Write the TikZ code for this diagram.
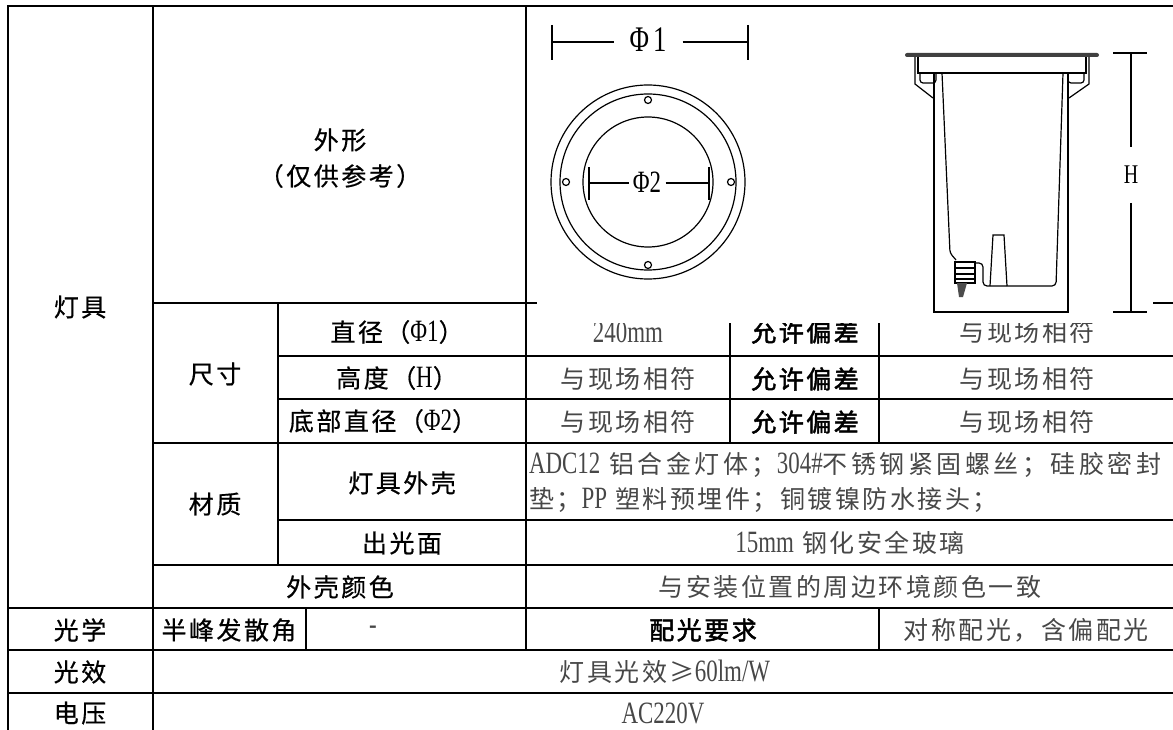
\documentclass[tikz,border=0pt]{standalone}
\usepackage{fontspec}
\setmainfont{Noto Sans CJK SC}[LetterSpace=10,BoldFont=*,BoldFeatures={FakeBold=2}]
\newfontfamily\labfont{Noto Sans CJK SC}[LetterSpace=10,FakeBold=0.6]
\newfontfamily\latnfont{Liberation Serif}[FakeStretch=0.74]
\newcommand\latn[1]{{\latnfont\fontsize{31}{31}\selectfont #1}}

\begin{document}
\begin{tikzpicture}[x=1pt,y=-1pt,line width=2pt,
  lab/.style={font=\labfont\fontsize{25}{30}\selectfont},
  val/.style={font=\fontsize{25}{30}\selectfont,text=black!72},
  bld/.style={font=\fontsize{25}{30}\selectfont\bfseries},
  lampline/.style={line width=1.2pt},
  dimline/.style={line width=1.6pt}]
\useasboundingbox (0,0) rectangle (1173,730);
% table grid
\draw[line cap=rect]
(8,6) -- (1173,6)
(8,6) -- (8,730)
(153,6) -- (153,730)
(526,6) -- (526,650)
(278,303) -- (278,565)
(730,303) -- (730,443)
(879,303) -- (879,443)
(879,608) -- (879,650)
(306,608) -- (306,650)
(153,303) -- (537,303)
(1153,303) -- (1173,303)
(278,356) -- (1173,356)
(278,399) -- (1173,399)
(153,443) -- (1173,443)
(278,520) -- (1173,520)
(153,565) -- (1173,565)
(8,608) -- (1173,608)
(8,650) -- (1173,650)
(8,693) -- (1173,693);
% left column
\node[lab] (dj) at (80,307) {灯具};
\node[lab] (wx) at (340,140) {外形};
\node[lab] (ck) at (340,176) {（仅供参考）};
\node[lab] (cc) at (215,374) {尺寸};
\node[lab] (cz) at (215,504) {材质};
\node[lab] (zj) at (397,332) {直径（\latn{Φ1}）};
\node[lab] (gd) at (397,378) {高度（\latn{H}）};
\node[lab] (dz) at (383,421) {底部直径（\latn{Φ2}）};
\node[lab] (wk) at (402,483) {灯具外壳};
\node[lab] (cg) at (402,543) {出光面};
\node[lab] (ys) at (340,587) {外壳颜色};
\node[lab] (gx) at (80,630) {光学};
\node[lab] (bf) at (229,630) {半峰发散角};
\node[val] (bv) at (373,630) {\latn{-}};
\node[lab] (xl) at (80,672) {光效};
\node[lab] (dy) at (80,713) {电压};
% values
\node[val] (v1) at (628,332) {\latn{240mm}};
\node[bld] (p1) at (805,332) {允许偏差};
\node[val] (w1) at (1027,332) {与现场相符};
\node[val] (v2) at (628,379) {与现场相符};
\node[bld] (p2) at (805,379) {允许偏差};
\node[val] (w2) at (1027,379) {与现场相符};
\node[val] (v3) at (628,422) {与现场相符};
\node[bld] (p3) at (805,422) {允许偏差};
\node[val] (w3) at (1027,422) {与现场相符};
\node[val,anchor=west,inner sep=0pt] (m1) at (528,465) {\addfontfeatures{LetterSpace=14}\latn{ADC12} 铝合金灯体；\latn{304\#}不锈钢紧固螺丝；硅胶密封};
\node[val,anchor=west,inner sep=0pt] (m2) at (528,500) {垫；\latn{PP} 塑料预埋件；铜镀镍防水接头；};
\node[val] (bl) at (850,543) {\latn{15mm} 钢化安全玻璃};
\node[val] (hj) at (850,587) {与安装位置的周边环境颜色一致};
\node[bld] (pg) at (703,630) {配光要求};
\node[val] (dc) at (1026,630) {对称配光，含偏配光};
\node[val] (gl) at (665,672) {灯具光效≥\latn{60lm/W}};
\node[val] (ac) at (663,713) {\latn{AC220V}};
% picture covers the top of the first row
\fill[white] (537,290) rectangle (1153,323);
% top view
\begin{scope}[lampline]
\draw (648,182) circle[radius=97];
\draw (648,182) circle[radius=88];
\draw (648,182) circle[radius=65];
\foreach \hx/\hy in {648/100,648/265,566/182,731/182}
  \draw (\hx,\hy) circle[radius=3.5];
\end{scope}
\node[font=\latnfont\fontsize{36}{36}\selectfont,minimum width=67pt,inner sep=0pt] (f1) at (648,40) {Φ\hspace{4pt}1};
\coordinate (f1a) at (552,42);
\coordinate (f1b) at (748,42);
\draw[dimline] (f1a) -- (f1.west |- f1a) (f1.east |- f1b) -- (f1b);
\draw[dimline] (552,25) -- (552,60) (748,25) -- (748,60);
\node[font=\latnfont\fontsize{31}{31}\selectfont,minimum width=35pt,inner sep=0pt] (f2) at (647,182) {Φ2};
\coordinate (f2a) at (589,183);
\coordinate (f2b) at (709,183);
\draw[dimline] (f2a) -- (f2.west |- f2a) (f2.east |- f2b) -- (f2b);
\draw[line width=2.2pt] (589,167) -- (589,200) (709,167) -- (709,200);
% side view
\fill[black!75,rounded corners=2pt] (905,53) rectangle (1099,57);
\begin{scope}[lampline]
\draw (915,57) -- (915,84) -- (933,98);
\draw (1089,57) -- (1089,84) -- (1069,98);
\draw (918,57) -- (918,73) -- (1086,73) -- (1086,57);
\draw[rounded corners=3pt] (920,73) -- (920,83) -- (936,83) -- (936,73);
\draw[rounded corners=3pt] (1068,73) -- (1068,83) -- (1084,83) -- (1084,73);
\draw (934,73) -- (934,312) -- (1068,312) -- (1068,73);
\draw[rounded corners=3pt] (942,73) -- (950,253) -- (956,260);
\draw[rounded corners=4pt] (975,263) -- (983,263) -- (983,286) -- (1056,286) -- (1063,73);
\draw (990,286) -- (993,235) -- (1004,235) -- (1007,286);
\draw[fill=white] (955,262) rectangle (975,283);
\draw (955,268) -- (975,268) (955,274) -- (975,274) (955,279) -- (975,279);
\fill[black!70] (957,283) -- (967,283) -- (963,297) -- (959,297) -- cycle;
\end{scope}
\node[font=\latnfont\fontsize{27}{27}\selectfont,minimum height=54pt,inner sep=0pt] (hh) at (1131,175) {H};
\coordinate (ht) at (1131,53);
\coordinate (hb) at (1131,312);
\draw[dimline] (ht) -- (hh) -- (hb);
\draw[dimline] (1113,53) -- (1147,53) (1113,312) -- (1147,312);
\end{tikzpicture}
\end{document}
